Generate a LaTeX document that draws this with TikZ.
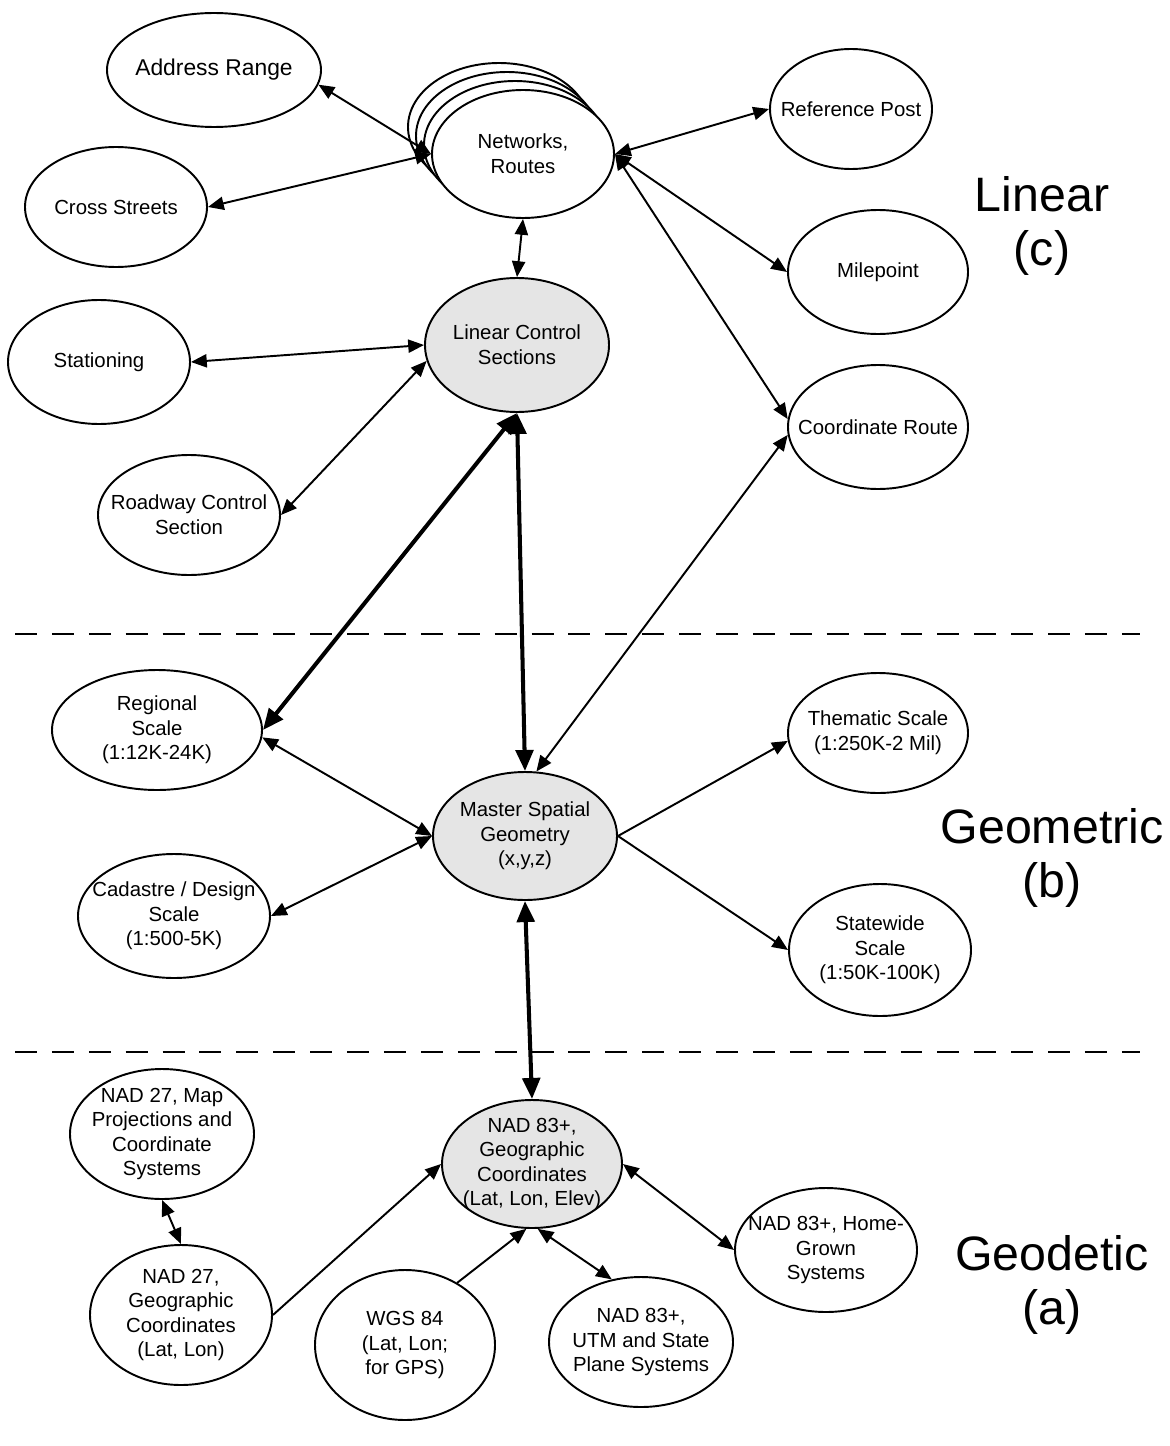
\documentclass[tikz,border=0pt]{standalone}
\usepackage{fontspec}
\setmainfont{Liberation Sans}
\usetikzlibrary{shapes.geometric,arrows.meta}

\begin{document}
\begin{tikzpicture}[x=0.02cm, y=-0.02cm,
        oval/.style={ellipse, draw, line width=1.1pt, inner sep=-22pt, align=center,
            font=\fontsize{11.6}{14}\selectfont},
        core/.style={oval, fill=gray!20},
        sz/.style 2 args={minimum width=#1*0.02cm, minimum height=#2*0.02cm},
        link/.style={line width=1.1pt, {Triangle[length=9pt,width=7.5pt]}-{Triangle[length=9pt,width=7.5pt]}},
        feed/.style={line width=1.1pt, -{Triangle[length=9pt,width=7.5pt]}},
        trunk/.style={line width=2.3pt, {Triangle[length=12pt,width=10pt]}-{Triangle[length=12pt,width=10pt]}},
        tier/.style={font=\fontsize{27.5}{31}\selectfont, align=center}]

        \useasboundingbox (0,0) rectangle (1169,1446);

        % linear
        \node[oval, sz={214}{114}, font=\fontsize{13}{14}\selectfont] (addr) at (214,70) {Address Range};
        \node[oval, sz={182}{120}] (cross) at (116,207) {Cross Streets};
        \foreach \k in {3,2,1}
            \node[oval, fill=white, sz={182}{128}] at (523-8*\k, 154-9*\k) {};
        \node[oval, fill=white, sz={182}{128}] (net) at (523,154) {Networks,\\Routes};
        \node[oval, sz={162}{120}] (refp) at (851,109) {Reference Post};
        \node[oval, sz={180}{124}] (mile) at (878,272) {Milepoint};
        \node[core, sz={184}{134}] (lcs) at (517,345) {Linear Control\\Sections};
        \node[oval, sz={182}{124}] (stat) at (99,362) {Stationing};
        \node[oval, sz={180}{124}] (croute) at (878,427) {Coordinate Route};
        \node[oval, sz={182}{120}] (rcs) at (189,515) {Roadway Control\\Section};

        % geometric
        \node[oval, sz={210}{120}] (reg) at (157,730) {Regional\\Scale\\(1:12K-24K)};
        \node[oval, sz={180}{120}] (them) at (878,733) {Thematic Scale\\(1:250K-2 Mil)};
        \node[core, sz={184}{128}] (msg) at (525,836) {Master Spatial\\Geometry\\(x,y,z)};
        \node[oval, sz={192}{124}] (cad) at (174,916) {Cadastre / Design\\Scale\\(1:500-5K)};
        \node[oval, sz={182}{132}] (state) at (880,950) {Statewide\\Scale\\(1:50K-100K)};

        % geodetic
        \node[oval, sz={184}{130}] (nad27m) at (162,1134) {NAD 27, Map\\Projections and\\Coordinate\\Systems};
        \node[core, sz={180}{128}] (nad83) at (532,1164) {NAD 83+,\\Geographic\\Coordinates\\(Lat, Lon, Elev)};
        \node[oval, sz={182}{140}] (nad27g) at (181,1315) {NAD 27,\\Geographic\\Coordinates\\(Lat, Lon)};
        \node[oval, sz={182}{124}] (home) at (826,1250) {NAD 83+, Home-\\Grown\\Systems};
        \node[oval, sz={180}{150}] (wgs) at (405,1345) {WGS 84\\(Lat, Lon;\\for GPS)};
        \node[oval, sz={184}{130}] (utm) at (641,1342) {NAD 83+,\\UTM and State\\Plane Systems};

        \node[tier] (lin) at (1042,226) {Linear\\(c)};
        \node[tier] (geom) at (1052,858) {Geometric\\(b)};
        \node[tier] (geod) at (1052,1285) {Geodetic\\(a)};

        \foreach \y in {634,1052}
            \draw[line width=1.1pt, dash pattern=on 12.5pt off 8.5pt] (15,\y) -- (1140,\y);

        \draw[link] (addr.-8) -- (net.west);
        \draw[link] (cross.east) -- (net.west);
        \draw[link] (net.east) -- (refp.west);
        \draw[link] (net.east) -- (mile.west);
        \draw[link] (net.east) -- (croute.175);
        \draw[link] (net.south) -- (lcs.north);
        \draw[link] (stat.east) -- (lcs.west);
        \draw[link] (rcs.east) -- (lcs.190);
        \draw[trunk] (lcs.south) -- (reg.east);
        \draw[trunk] (lcs.south) -- (msg.north);
        \draw[link] (croute.185) -- (msg.80);
        \draw[link] (reg.-4) -- (msg.west);
        \draw[link] (cad.east) -- (msg.west);
        \draw[feed] (msg.east) -- (them.185);
        \draw[feed] (msg.east) -- (state.west);
        \draw[trunk] (msg.south) -- (nad83.north);
        \draw[link] (nad27m.south) -- (nad27g.north);
        \draw[feed] (nad27g.east) -- (nad83.west);
        \draw[feed] (wgs.50) -- (nad83.-95);
        \draw[link] (nad83.-85) -- (utm.115);
        \draw[link] (nad83.east) -- (home.west);
\end{tikzpicture}
\end{document}
